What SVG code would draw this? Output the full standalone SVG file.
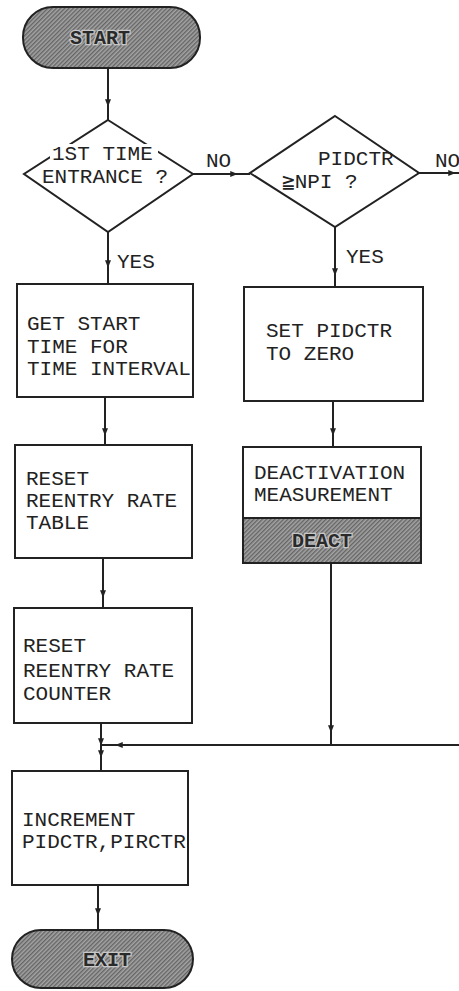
<svg xmlns="http://www.w3.org/2000/svg" width="459" height="991" viewBox="0 0 459 991">
<style>
.t{font-family:"Liberation Mono","DejaVu Sans Mono",monospace;font-size:21px;fill:#222}
.tt{font-family:"Liberation Mono","DejaVu Sans Mono",monospace;font-size:20px;fill:#2a2a2a;stroke:#c8c8c8;stroke-width:2.5;paint-order:stroke;font-weight:bold;text-anchor:middle}
.box{fill:#fff;stroke:#222;stroke-width:2}
.term{fill:url(#hatch);stroke:#222;stroke-width:2}
.c{fill:none;stroke:#222;stroke-width:2;marker-mid:url(#ah)}
</style>
<defs>
<pattern id="hatch" width="3" height="3" patternUnits="userSpaceOnUse" patternTransform="rotate(45)">
<rect width="3" height="3" fill="#a4a4a4"/>
<line x1="0.75" y1="0" x2="0.75" y2="3" stroke="#5a5a5a" stroke-width="1.2"/>
</pattern>
<marker id="ah" viewBox="0 0 10 8" refX="9" refY="4" markerWidth="8" markerHeight="6" markerUnits="userSpaceOnUse" orient="auto">
<path d="M0,0 L10,4 L0,8 Z" fill="#222"/>
</marker>
</defs>

<g id="connectors">
<path class="c" d="M108,68 L108,106 L108,120"/>
<path class="c" d="M108,232 L108,267 L108,284"/>
<path class="c" d="M193,174 L237,174 L250,174"/>
<path class="c" d="M419,173 L455,173 L459,173"/>
<path class="c" d="M335,227 L335,275 L335,287"/>
<path class="c" d="M105,397 L105,435 L105,445"/>
<path class="c" d="M333,401 L333,435 L333,447"/>
<path class="c" d="M103,558 L103,597 L103,608"/>
<path class="c" d="M101,723 L101,745 L101,757 L101,771"/>
<path class="c" d="M331,563 L331,732 L331,745"/>
<path class="c" d="M459,745 L116,745 L101,745"/>
<path class="c" d="M98,885 L98,915 L98,930"/>
</g>
<g id="labels">
<text class="t" x="117" y="268">YES</text>
<text class="t" x="206" y="167">NO</text>
<text class="t" x="435" y="167">NO</text>
<text class="t" x="346" y="263">YES</text>
</g>

<g id="start">
<rect class="term" x="23" y="7" width="177" height="61" rx="30"/>
<text class="tt" x="100" y="44">START</text>
</g>

<g id="first-time">
<polygon class="box" points="108,120 193,174 108,232 24,174"/>
<rect x="50" y="144" width="108" height="19" fill="#fff"/>
<text class="t" x="52" y="160">1ST TIME</text>
<text class="t" x="42" y="183">ENTRANCE ?</text>
</g>

<g id="pidctr-test">
<polygon class="box" points="335,116 419,173 335,227 250,173"/>
<text class="t" x="318" y="165">PIDCTR</text>
<text class="t" x="282" y="188">≧NPI ?</text>
</g>

<g id="get-start">
<rect class="box" x="17" y="284" width="176" height="113"/>
<text class="t" x="27" y="330">GET START</text>
<text class="t" x="27" y="353">TIME FOR</text>
<text class="t" x="27" y="375">TIME INTERVAL</text>
</g>

<g id="reset-table">
<rect class="box" x="15" y="445" width="177" height="113"/>
<text class="t" x="26" y="485">RESET</text>
<text class="t" x="26" y="507">REENTRY RATE</text>
<text class="t" x="26" y="529">TABLE</text>
</g>

<g id="reset-counter">
<rect class="box" x="14" y="608" width="178" height="115"/>
<text class="t" x="23" y="652">RESET</text>
<text class="t" x="23" y="677">REENTRY RATE</text>
<text class="t" x="23" y="700">COUNTER</text>
</g>

<g id="set-pidctr">
<rect class="box" x="244" y="287" width="179" height="114"/>
<text class="t" x="266" y="337">SET PIDCTR</text>
<text class="t" x="266" y="360">TO ZERO</text>
</g>

<g id="deactivation">
<rect class="box" x="243" y="447" width="178" height="71"/>
<text class="t" x="254" y="479">DEACTIVATION</text>
<text class="t" x="254" y="501">MEASUREMENT</text>
<rect class="term" x="243" y="518" width="178" height="45" rx="0"/>
<text class="tt" x="322" y="547">DEACT</text>
</g>

<g id="increment">
<rect class="box" x="12" y="771" width="176" height="114"/>
<text class="t" x="22" y="826">INCREMENT</text>
<text class="t" x="22" y="848">PIDCTR,PIRCTR</text>
</g>

<g id="exit">
<rect class="term" x="12" y="930" width="181" height="58" rx="29"/>
<text class="tt" x="107" y="966">EXIT</text>
</g>
</svg>
